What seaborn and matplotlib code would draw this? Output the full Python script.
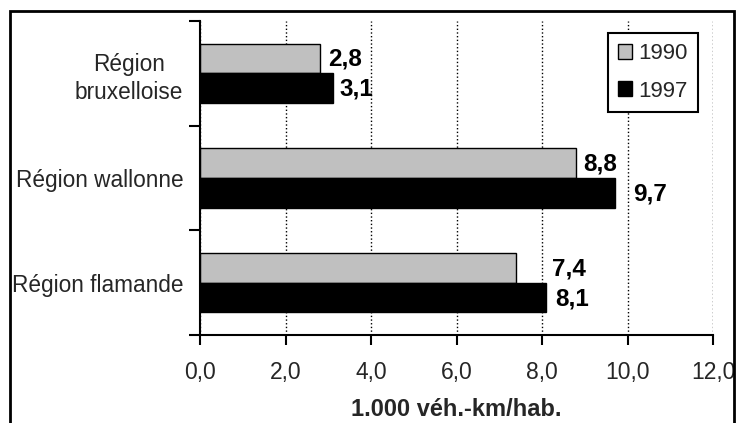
import matplotlib
matplotlib.use('Agg')
import matplotlib.pyplot as plt
import seaborn as sns
import pandas as pd
from matplotlib.patches import Rectangle, Patch

# ---- data ----
regions = ["Région\nbruxelloise", "Région wallonne", "Région flamande"]
years = ["1990", "1997"]
values_1990 = [2.8, 8.8, 7.4]
values_1997 = [3.1, 9.7, 8.1]
value_labels_1990 = ["2,8", "8,8", "7,4"]
value_labels_1997 = ["3,1", "9,7", "8,1"]
x_ticks = [0, 2, 4, 6, 8, 10, 12]
x_tick_labels = ["0,0", "2,0", "4,0", "6,0", "8,0", "10,0", "12,0"]
x_label = "1.000 véh.-km/hab."
colors = ["#c0c0c0", "#000000"]

# label offsets (pixels) to the right of each bar end, per year
label_offsets_1990 = [8, 7, 36]
label_offsets_1997 = [7, 18, 9]

sns.set_theme(style="white")
plt.rcParams['font.family'] = ['Liberation Sans', 'DejaVu Sans']

df = pd.DataFrame({
    "region": regions * 2,
    "year": [years[0]] * 3 + [years[1]] * 3,
    "value": values_1990 + values_1997,
})

W, H = 739, 423
fig = plt.figure(figsize=(W / 100, H / 100), dpi=100)
ax = fig.add_axes([200 / W, 1 - 335 / H, 513 / W, 314 / H])

sns.barplot(data=df, y="region", x="value", hue="year", orient="h",
            palette=colors, width=0.57, saturation=1, errorbar=None,
            edgecolor="black", linewidth=1, ax=ax, legend=False)

ax.set_xlim(0, 12)
ax.set_ylim(2.5, -0.5)
ax.set_xticks(x_ticks)
ax.set_xticklabels(x_tick_labels, fontsize=16.5)
ax.set_xlabel(x_label, fontsize=17, fontweight="bold", labelpad=9.5)
ax.set_ylabel("")

for t in ax.get_yticklabels():
    t.set_fontsize(16.3)
    t.set_multialignment("center")
    t.set_linespacing(1.3)

ax.set_yticks([-0.5, 0.5, 1.5, 2.5], minor=True)
ax.tick_params(axis="y", which="major", length=0, pad=12, left=True)
ax.tick_params(axis="y", which="minor", length=8, width=1.5, left=True,
               direction="out", color="black")
ax.tick_params(axis="x", which="major", length=7, width=1.5, bottom=True,
               direction="out", color="black", pad=12)

for s in ["top", "right"]:
    ax.spines[s].set_visible(False)
for s in ["left", "bottom"]:
    ax.spines[s].set_color("black")
    ax.spines[s].set_linewidth(1.5)

ax.set_axisbelow(True)
ax.grid(axis="x", linestyle=":", color="black", linewidth=1)
ax.grid(axis="y", visible=False)

# value labels
all_labels = [value_labels_1990, value_labels_1997]
all_offsets = [label_offsets_1990, label_offsets_1997]
for cont, labs, offs in zip(ax.containers, all_labels, all_offsets):
    for bar, lab, off in zip(cont, labs, offs):
        yc = bar.get_y() + bar.get_height() / 2
        ax.annotate(lab, xy=(bar.get_width(), yc), xytext=(off, -1),
                    textcoords="offset pixels", ha="left", va="center",
                    fontsize=17.5, fontweight="bold", color="black",
                    annotation_clip=False)

handles = [Patch(facecolor=c, edgecolor="black", linewidth=1) for c in colors]
leg = ax.legend(handles, years, loc="upper right",
                bbox_to_anchor=(0.971, 0.962), borderaxespad=0,
                frameon=True, fancybox=False, edgecolor="black",
                framealpha=1, fontsize=16, handlelength=0.65,
                handleheight=0.65, handletextpad=0.3, labelspacing=0.75,
                borderpad=0.45)
leg.get_frame().set_linewidth(1.5)

fig.patches.append(Rectangle((10 / W, -0.05), 724 / W, (1 - 11 / H) + 0.05,
                             transform=fig.transFigure, fill=False,
                             edgecolor="black", linewidth=2))

fig.savefig("out.png", dpi=100)
